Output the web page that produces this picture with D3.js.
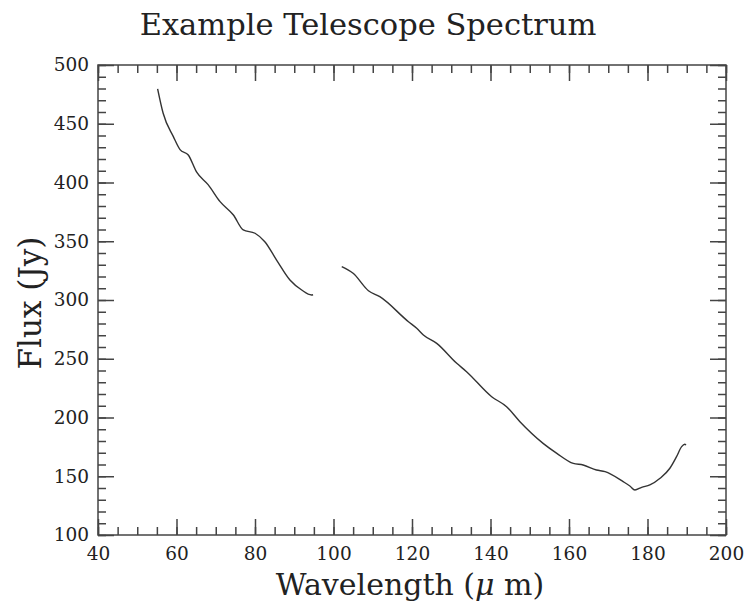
<!DOCTYPE html>
<html>
<head>
<meta charset="utf-8">
<script src="https://cdn.jsdelivr.net/npm/d3@7"></script>
<style>
  body { margin: 0; background: #fff; }
  text { font-family: "DejaVu Serif", serif; fill: #222; }
</style>
</head>
<body>
<svg id="chart" width="744" height="601"></svg>
<script>
// spectrum segments (wavelength in um, flux in Jy)
const wave1 = [55.2, 56.6, 59.2, 60.9, 63.0, 65.1, 68.1, 71.1, 74.5, 77.0, 80.0, 82.5, 85.5, 88.9, 91.9, 94.4, 94.8];
const flux1 = [479.6, 458.9, 439.0, 428.0, 423.4, 409.0, 398.0, 383.7, 372.3, 359.6, 356.8, 349.6, 334.0, 317.0, 308.5, 304.3, 304.5];
const wave2 = [102.1, 105.0, 108.9, 111.8, 119.1, 121.2, 122.9, 126.3, 131.4, 133.9, 140.3, 144.1, 147.5, 153.4, 156.9, 161.1, 163.6, 167.0, 169.2, 173.8, 175.5, 176.8, 178.5, 180.6, 183.2, 185.7, 187.4, 188.7, 189.5, 189.8];
const flux2 = [328.4, 322.7, 307.9, 302.8, 281.5, 275.9, 270.2, 263.1, 246.1, 239.0, 217.7, 209.2, 196.4, 178.0, 169.5, 160.9, 159.6, 155.3, 153.9, 145.4, 141.7, 138.3, 140.6, 142.6, 148.3, 156.8, 166.7, 175.2, 177.2, 176.5];

const xTicks = [40, 60, 80, 100, 120, 140, 160, 180, 200];
const yTicks = [100, 150, 200, 250, 300, 350, 400, 450, 500];
const xMinor = d3.range(40, 201, 5);
const yMinor = d3.range(100, 501, 10);

const svg = d3.select("#chart");
const pLeft = 98, pRight = 726, pTop = 65, pBottom = 535;

const x = d3.scaleLinear().domain([40, 200]).range([pLeft, pRight]);
const y = d3.scaleLinear().domain([100, 500]).range([pBottom, pTop]);

// helper to style an axis group
function styleAxis(g) {
  g.select(".domain").remove();
  g.selectAll(".tick line").attr("stroke", "#444").attr("stroke-width", 1.5);
  g.selectAll(".tick text").attr("font-family", "DejaVu Serif").attr("font-size", 18.5).attr("fill", "#222");
}

// minor ticks, all four sides
svg.append("g").attr("transform", `translate(0,${pBottom})`)
  .call(d3.axisBottom(x).tickValues(xMinor).tickSize(-8).tickFormat("")).call(styleAxis);
svg.append("g").attr("transform", `translate(0,${pTop})`)
  .call(d3.axisTop(x).tickValues(xMinor).tickSize(-8).tickFormat("")).call(styleAxis);
svg.append("g").attr("transform", `translate(${pLeft},0)`)
  .call(d3.axisLeft(y).tickValues(yMinor).tickSize(-8).tickFormat("")).call(styleAxis);
svg.append("g").attr("transform", `translate(${pRight},0)`)
  .call(d3.axisRight(y).tickValues(yMinor).tickSize(-8).tickFormat("")).call(styleAxis);

// major ticks
svg.append("g").attr("transform", `translate(0,${pBottom})`)
  .call(d3.axisBottom(x).tickValues(xTicks).tickSizeInner(-16).tickSizeOuter(0).tickPadding(12).tickFormat(d3.format("d")))
  .call(styleAxis);
svg.append("g").attr("transform", `translate(0,${pTop})`)
  .call(d3.axisTop(x).tickValues(xTicks).tickSize(-16).tickFormat("")).call(styleAxis);
svg.append("g").attr("transform", `translate(${pLeft},0)`)
  .call(d3.axisLeft(y).tickValues(yTicks).tickSizeInner(-16).tickSizeOuter(0).tickPadding(9).tickFormat(d3.format("d")))
  .call(styleAxis);
svg.append("g").attr("transform", `translate(${pRight},0)`)
  .call(d3.axisRight(y).tickValues(yTicks).tickSize(-16).tickFormat("")).call(styleAxis);

// frame
svg.append("rect")
  .attr("x", pLeft).attr("y", pTop)
  .attr("width", pRight - pLeft).attr("height", pBottom - pTop)
  .attr("fill", "none").attr("stroke", "#444").attr("stroke-width", 1.5);

// spectrum line
const line = d3.line().x((d) => x(d[0])).y((d) => y(d[1])).curve(d3.curveMonotoneX);
[[wave1, flux1], [wave2, flux2]].forEach(([w, f]) => {
  svg.append("path")
    .datum(w.map((v, i) => [v, f[i]]))
    .attr("fill", "none")
    .attr("stroke", "#333")
    .attr("stroke-width", 1.4)
    .attr("d", line);
});

// title
svg.append("text")
  .attr("x", 368).attr("y", 35)
  .attr("text-anchor", "middle")
  .attr("font-size", 30.5)
  .text("Example Telescope Spectrum");

// x label
const xl = svg.append("text")
  .attr("x", 410).attr("y", 595)
  .attr("text-anchor", "middle")
  .attr("font-size", 30);
xl.append("tspan").text("Wavelength (");
xl.append("tspan").attr("font-style", "italic").text("\u03bc");
xl.append("tspan").text(" m)");

// y label
svg.append("text")
  .attr("transform", `translate(41,303) rotate(-90)`)
  .attr("text-anchor", "middle")
  .attr("font-size", 31)
  .text("Flux (Jy)");
</script>
</body>
</html>
